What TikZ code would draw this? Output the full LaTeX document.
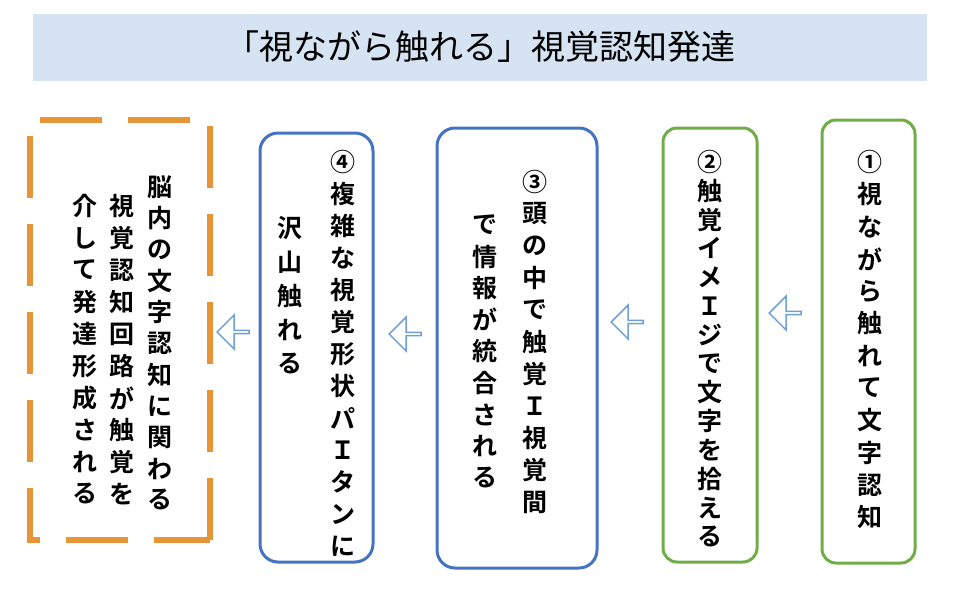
\documentclass[tikz,border=0pt]{standalone}
\usepackage{fontspec}
\setmainfont{Noto Sans CJK JP}[BoldFont={Noto Sans CJK JP Bold}]
\usetikzlibrary{shapes.arrows}
\definecolor{tbg}{HTML}{D6E3F3}
\definecolor{gr}{HTML}{70AD47}
\definecolor{bl}{HTML}{4472C4}
\definecolor{ar}{HTML}{6FA0D8}
\definecolor{og}{HTML}{E8953A}
\begin{document}
\begin{tikzpicture}[x=1pt,y=-1pt,
  gbox/.style={draw=gr,line width=3pt,rounded corners=14pt},
  bbox/.style={draw=bl,line width=3pt,rounded corners=18pt},
  obox/.style={draw=og,line width=6pt,dash pattern=on 62pt off 26pt},
  ch/.style={font=\fontsize{25}{25}\selectfont\bfseries,inner sep=0pt},
  arr/.style={draw=ar,line width=1.5pt,fill=white,single arrow,shape border rotate=180,minimum width=34pt,minimum height=32pt,single arrow head extend=7pt,inner sep=0pt}]
\useasboundingbox (0,0) rectangle (960,600);
\node[fill=tbg,minimum width=894pt,minimum height=67pt,inner sep=0pt,font=\fontsize{34}{34}\selectfont] (title) at (480,47) {「視ながら触れる」視覚認知発達};
\node[gbox,minimum width=93pt,minimum height=443pt] (b1) at (868.5,341.5) {};
\node[gbox,minimum width=94pt,minimum height=434pt] (b2) at (710,345) {};
\node[bbox,minimum width=160pt,minimum height=440pt] (b3) at (517,348) {};
\node[bbox,minimum width=113pt,minimum height=429pt] (b4) at (316.5,347.5) {};
\draw[obox] (210,540) -- (210,120) -- (30,120) -- (30,540) -- cycle;
\coordinate (b5) at (120,330);
\newcommand\vcol[4]{\foreach \c [count=\i from 0] in {#4} \node[ch] at (#1,#2+\i*#3) {\c};}
\vcol{870}{162}{32.3}{①,視,な,が,ら,触,れ,て,文,字,認,知}
\vcol{710}{162}{28.8}{②,触,覚,イ,メ,Ｉ,ジ,で,文,字,を,拾,え,る}
\vcol{535}{182}{32}{③,頭,の,中,で,触,覚,Ｉ,視,覚,間}
\vcol{485}{225}{31.6}{で,情,報,が,統,合,さ,れ,る}
\vcol{343}{162}{32}{④,複,雑,な,視,覚,形,状,パ,Ｉ,タ,ン,に}
\vcol{290}{228}{34}{沢,山,触,れ,る}
\vcol{160}{187}{31.3}{脳,内,の,文,字,認,知,に,関,わ,る}
\vcol{122}{206}{32}{視,覚,認,知,回,路,が,触,覚,を}
\vcol{85}{206}{32}{介,し,て,発,達,形,成,さ,れ,る}
\node[arr] (a1) at (786,313) {};
\node[arr] (a2) at (628,322) {};
\node[arr] (a3) at (406,334) {};
\node[arr] (a4) at (234,332) {};
\end{tikzpicture}
\end{document}
